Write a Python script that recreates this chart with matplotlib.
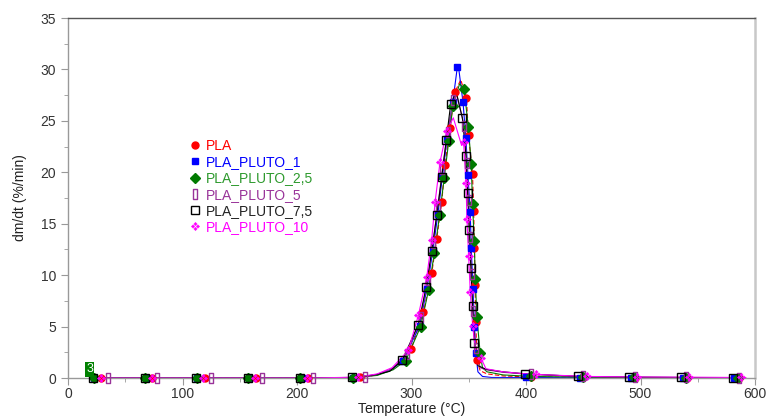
import matplotlib
matplotlib.use('Agg')
import matplotlib.pyplot as plt
import numpy as np
from matplotlib.path import Path

plt.rcParams['font.family'] = ['Liberation Sans', 'DejaVu Sans']

# --- data (temperature in degC, dm/dt in %/min) ---
# marker points
pla_t = [28.7, 73.7, 120, 164.6, 210, 255, 299.7, 310.4, 317.7, 322, 326.4, 329.3, 333.5, 338, 348, 349.8,
         353.3, 354.3, 355.0, 355.5, 356.2, 357.1, 404.8, 450, 495, 541, 586]
pla_y = [0, 0, 0, 0, 0, 0.05, 2.8, 6.4, 10.2, 13.5, 17.1, 20.7, 24.3, 27.8, 27.2, 23.6,
         19.8, 16.2, 12.6, 9.0, 5.4, 1.75, 0.1, 0.05, 0.03, 0.02, 0]
# extra points of the line only
pla_line_t = [20, 270, 285, 343, 360, 366, 380]
pla_line_y = [0, 0.3, 1.0, 29.0, 0.7, 0.4, 0.2]

p1_t = [23, 68, 113, 158, 204, 249, 293, 307, 313.5, 318.5, 323, 327, 331, 336, 340, 345, 347.5,
        349.3, 351.3, 352.2, 353.7, 355, 356.2, 400.4, 447, 492, 537, 582]
p1_y = [0, 0, 0, 0, 0, 0.03, 1.7, 5.1, 8.7, 12.3, 15.9, 19.6, 23.2, 26.8, 30.2, 26.8, 23.3,
        19.7, 16.1, 12.6, 8.7, 5.0, 2.4, 0.05, 0.03, 0.02, 0.01, 0]
p1_line_t = [20, 270, 282, 341, 358, 362, 370]
p1_line_y = [0, 0.3, 0.8, 30.3, 0.6, 0.15, 0.05]

p25_t = [22.5, 67.5, 112.5, 157.5, 203, 248.5, 295, 308, 315, 320, 324.5, 328.5, 332.5, 336, 346, 349.6,
         352.2, 353.3, 354.8, 355.7, 357.1, 360, 404.8, 449.5, 494, 540, 585]
p25_y = [0, 0, 0, 0, 0, 0.03, 1.7, 5.0, 8.6, 12.2, 15.8, 19.4, 23.0, 26.4, 28.1, 24.4,
         20.8, 16.9, 13.3, 9.6, 5.9, 2.4, 0.15, 0.08, 0.05, 0.03, 0]
p25_line_t = [20, 270, 284, 342, 362, 366, 380]
p25_line_y = [0, 0.25, 0.8, 28.6, 1.0, 0.6, 0.3]

p5_t = [34.8, 78, 124.6, 169.6, 214, 259, 296, 308, 314, 318.8, 323, 327, 331.5, 336.5, 346, 348.3,
        349.8, 351, 352.5, 353.8, 356, 404, 450, 495, 540, 586]
p5_y = [0, 0, 0, 0, 0, 0.08, 2.3, 5.9, 9.5, 13.1, 16.7, 20.3, 23.9, 27.0, 24.5, 20.9,
        17.3, 13.7, 10.1, 6.5, 2.9, 0.35, 0.15, 0.08, 0.05, 0]
p5_line_t = [20, 270, 283, 339.5, 360, 365, 380, 392]
p5_line_y = [0, 0.35, 0.9, 27.6, 1.0, 0.8, 0.55, 0.45]

p75_t = [22, 67, 112, 157, 203, 248, 292, 306, 312.7, 317.6, 322, 326.4, 330.3, 334.2, 344.4, 347.6,
         349, 350.4, 351.9, 353.3, 355, 399.5, 445.5, 489.8, 535.4, 581]
p75_y = [0, 0, 0, 0, 0, 0.05, 1.75, 5.2, 8.8, 12.3, 15.8, 19.5, 23.1, 26.6, 25.3, 21.6,
         18.0, 14.4, 10.7, 7.0, 3.4, 0.4, 0.15, 0.08, 0.05, 0]
p75_line_t = [20, 261, 270, 281, 339, 358, 365, 380, 392]
p75_line_y = [0, 0.2, 0.35, 0.65, 27.8, 1.2, 0.85, 0.6, 0.48]

p10_t = [28.7, 73, 118, 163, 209, 253, 297.3, 306, 313.3, 317.6, 320.6, 324.9, 330.7, 345.5, 347.6,
         348.4, 349.9, 351.3, 353.4, 360.9, 409, 453, 497, 542.7, 587.7]
p10_y = [0, 0, 0, 0, 0, 0.08, 2.7, 6.1, 9.8, 13.4, 17.1, 21.0, 24.0, 22.9, 19.0,
         15.5, 11.9, 8.4, 5.1, 1.9, 0.35, 0.15, 0.1, 0.08, 0.05]
p10_line_t = [20, 270, 283, 336.5, 343.8, 356, 365, 380, 395, 592]
p10_line_y = [0, 0.4, 1.0, 25.3, 22.6, 2.6, 0.9, 0.6, 0.45, 0.04]

labels = ['PLA', 'PLA_PLUTO_1', 'PLA_PLUTO_2,5', 'PLA_PLUTO_5', 'PLA_PLUTO_7,5', 'PLA_PLUTO_10']


def rect_marker():
    v = [(-0.3, -0.6), (0.3, -0.6), (0.3, 0.6), (-0.3, 0.6), (-0.3, -0.6)]
    c = [Path.MOVETO, Path.LINETO, Path.LINETO, Path.LINETO, Path.CLOSEPOLY]
    return Path(v, c)


def flower_marker():
    verts, codes = [], []
    for cx, cy in [(0, 0.55), (0.55, 0), (0, -0.55), (-0.55, 0)]:
        h = 0.38
        verts += [(cx, cy + h), (cx + h, cy), (cx, cy - h), (cx - h, cy), (cx, cy + h)]
        codes += [Path.MOVETO, Path.LINETO, Path.LINETO, Path.LINETO, Path.CLOSEPOLY]
    return Path(verts, codes)


series = [
    (pla_t, pla_y, pla_line_t, pla_line_y, '#ff0000', '#ff0000',
     dict(marker='o', ms=5, mfc='#ff0000', mec='#ff0000'), (0, (4, 2))),
    (p1_t, p1_y, p1_line_t, p1_line_y, '#0000ff', '#0000ff',
     dict(marker='s', ms=5, mfc='#0000ff', mec='#0000ff'), '-'),
    (p25_t, p25_y, p25_line_t, p25_line_y, '#007a00', '#2e9a2e',
     dict(marker='D', ms=4.8, mfc='#007a00', mec='#007a00'), '-'),
    (p5_t, p5_y, p5_line_t, p5_line_y, '#993399', '#993399',
     dict(marker=rect_marker(), ms=7, mfc='none', mec='#993399', mew=1.0), '-'),
    (p75_t, p75_y, p75_line_t, p75_line_y, '#000000', '#222222',
     dict(marker='s', ms=5.5, mfc='none', mec='#000000', mew=1.0), '-'),
    (p10_t, p10_y, p10_line_t, p10_line_y, '#ff00ff', '#ff00ff',
     dict(marker=flower_marker(), ms=6, mfc='#ff00ff', mec='#ff00ff', mew=0.3), '-'),
]

fig = plt.figure(figsize=(7.69, 4.20), dpi=100)
ax = fig.add_axes([68 / 769, 1 - 378 / 420, (755 - 68) / 769, (378 - 18) / 420])

handles = []
for (mt, my, lt, ly, col, tcol, mk, ls), lab in zip(series, labels):
    t_all = np.concatenate([mt, lt])
    y_all = np.concatenate([my, ly])
    order = np.argsort(t_all)
    ax.plot(t_all[order], y_all[order], color=col, lw=0.8, ls=ls, zorder=2)
    h, = ax.plot(mt, my, ls='none', clip_on=False, zorder=3, label=lab, **mk)
    handles.append(h)

ax.set_xlim(0, 600)
ax.set_ylim(0, 35)
ax.set_xticks(np.arange(0, 601, 100))
ax.set_xticks(np.arange(50, 600, 100), minor=True)
ax.set_yticks(np.arange(0, 36, 5))
ax.set_yticks(np.arange(2.5, 35, 5), minor=True)

for s in ['left', 'bottom']:
    ax.spines[s].set_color('#999999')
    ax.spines[s].set_linewidth(1.0)
ax.spines['top'].set_color('#555555')
ax.spines['top'].set_linewidth(1.0)
ax.spines['right'].set_color('#c8c8c8')
ax.spines['right'].set_linewidth(1.8)

ax.tick_params(axis='both', which='major', length=5, color='#999999', labelsize=10, labelcolor='#333333')
ax.tick_params(axis='both', which='minor', length=3, color='#999999')
ax.tick_params(axis='x', which='major', pad=1.5)
ax.tick_params(axis='y', which='both', right=False)
ax.tick_params(axis='x', which='both', top=False)

ax.set_xlabel('Temperature (°C)', fontsize=10, color='#222222', labelpad=0.5)
ax.set_ylabel('dm/dt (%/min)', fontsize=10, color='#222222', labelpad=10)

# small label box near the origin
ax.text(19, 0.25, '3', fontsize=9, color='white', ha='center', va='bottom',
        bbox=dict(boxstyle='square,pad=0.1', fc='#008000', ec='none'))

leg = ax.legend(handles=handles, loc='upper left', bbox_to_anchor=(189 / 769, 1 - 139 / 420),
                bbox_transform=fig.transFigure, frameon=False, fontsize=10,
                handlelength=0.9, handletextpad=0.35, labelspacing=0.16, borderpad=0,
                borderaxespad=0)
for txt, s in zip(leg.get_texts(), series):
    txt.set_color(s[5])

fig.savefig('out.png', dpi=100)
